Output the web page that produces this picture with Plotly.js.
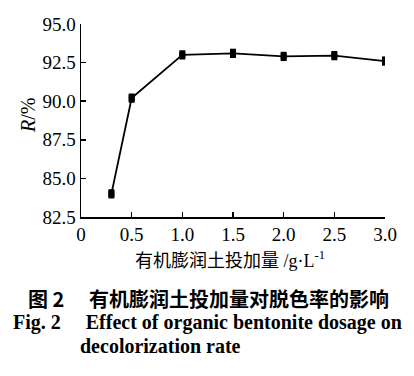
<!DOCTYPE html>
<html><head><meta charset="utf-8">
<script src="https://cdn.plot.ly/plotly-3.0.1.min.js"></script>
<style>html,body{margin:0;padding:0;background:#fff}#c{width:414px;height:376px}</style>
</head><body><div id="c"></div>
<script>
const dosage = [0.3, 0.5, 1.0, 1.5, 2.0, 2.5, 3.0];
const rate = [84.0, 90.2, 93.0, 93.1, 92.9, 92.95, 92.6];
const xTickVals = [0, 0.5, 1.0, 1.5, 2.0, 2.5, 3.0];
const xTickText = ["0", "0.5", "1.0", "1.5", "2.0", "2.5", "3.0"];
const yTickVals = [82.5, 85.0, 87.5, 90.0, 92.5, 95.0];
const yTickText = ["82.5", "85.0", "87.5", "90.0", "92.5", "95.0"];

const L = 81, R = 385, T = 24, B = 217, W = 414, H = 376;
const px = X => (X - L) / (R - L);
const py = Y => (B - Y) / (B - T);
const serif = "Liberation Serif";
const cjk = "Noto Sans CJK SC";

const trace = {
  x: dosage, y: rate, type: "scatter", mode: "lines+markers",
  line: {color: "#000", width: 1.8},
  marker: {symbol: "square", size: 6, color: "#000", line: {width: 0}},
  error_y: {type: "constant", value: 0.3, thickness: 6, width: 0, color: "#000", visible: true},
  hoverinfo: "skip"
};

const layout = {
  width: W, height: H,
  margin: {l: L, r: W - R, t: T, b: H - B},
  paper_bgcolor: "#fff", plot_bgcolor: "#fff",
  font: {family: serif, size: 19, color: "#000"},
  showlegend: false,
  xaxis: {
    range: [0, 3.0], tickmode: "array", tickvals: xTickVals, ticktext: xTickText,
    showline: true, linecolor: "#000", linewidth: 1.5, mirror: false,
    ticks: "inside", ticklen: 5, tickcolor: "#000", tickwidth: 1.5,
    showgrid: false, zeroline: false,
    tickfont: {family: serif, size: 19, color: "#000"}
  },
  yaxis: {
    range: [82.5, 95.0], tickmode: "array", tickvals: yTickVals, ticktext: yTickText,
    showline: true, linecolor: "#000", linewidth: 1.5, mirror: false,
    ticks: "inside", ticklen: 5, tickcolor: "#000", tickwidth: 1.5,
    showgrid: false, zeroline: false,
    tickfont: {family: serif, size: 19, color: "#000"}
  },
  annotations: [
    {xref: "paper", yref: "paper", x: px(28), y: py(116), textangle: -90,
     text: "<i>R</i>/%", showarrow: false, xanchor: "center", yanchor: "middle",
     font: {family: serif, size: 20, color: "#000"}},
    {xref: "paper", yref: "paper", x: px(230), y: py(259),
     text: "<span style=\"font-family:Noto Sans CJK SC\">有机膨润土投加量</span> /g·L<sup>-1</sup>",
     showarrow: false, xanchor: "center", yanchor: "middle",
     font: {family: serif, size: 18, color: "#000"}},
    {xref: "paper", yref: "paper", x: px(208), y: py(298),
     text: "<b>图 2　 有机膨润土投加量对脱色率的影响</b>",
     showarrow: false, xanchor: "center", yanchor: "middle",
     font: {family: cjk, size: 20, color: "#000"}},
    {xref: "paper", yref: "paper", x: px(207), y: py(322),
     text: "<b>Fig. 2     Effect of organic bentonite dosage on</b>",
     showarrow: false, xanchor: "center", yanchor: "middle",
     font: {family: serif, size: 20, color: "#000"}},
    {xref: "paper", yref: "paper", x: px(78), y: py(346),
     text: "<b>decolorization rate</b>",
     showarrow: false, xanchor: "left", yanchor: "middle",
     font: {family: serif, size: 20, color: "#000"}}
  ]
};

Plotly.newPlot("c", [trace], layout, {staticPlot: true, displayModeBar: false});
</script></body></html>
